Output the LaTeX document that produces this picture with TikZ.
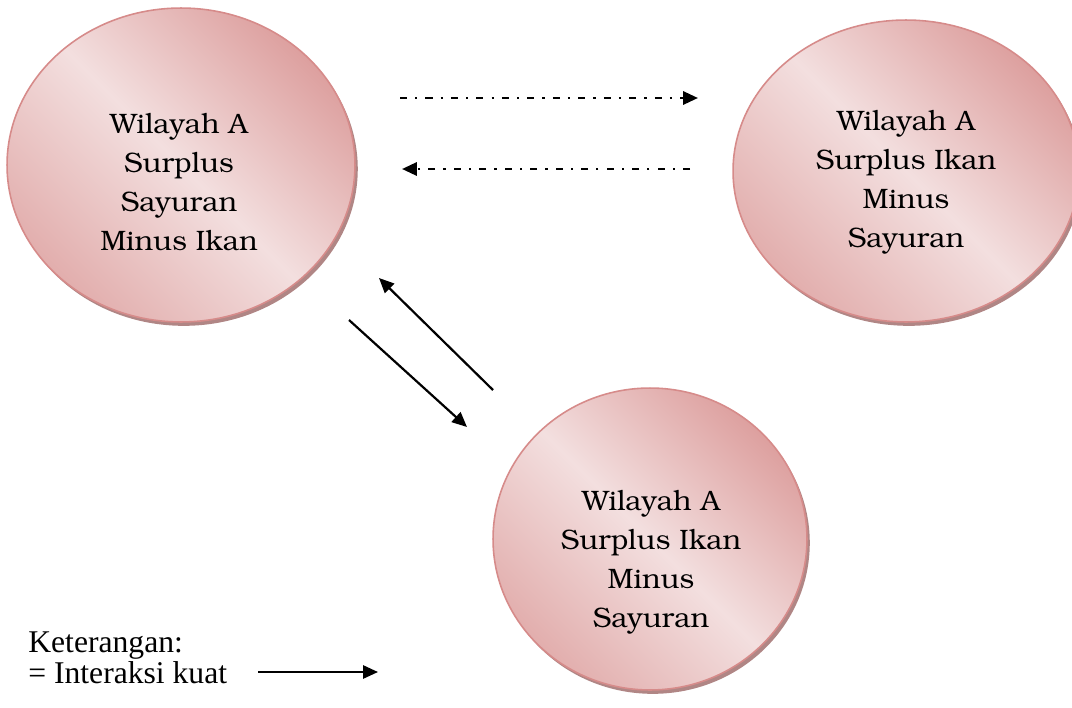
\documentclass[tikz,border=0pt]{standalone}
\usepackage[T1]{fontenc}
\usepackage{fontspec}
\setmainfont{Liberation Serif}
\newfontfamily\dejavuserif{DejaVu Serif}
\usetikzlibrary{shapes.geometric,arrows.meta,shadows}
\definecolor{rosedark}{RGB}{221,160,159}
\definecolor{rosebot}{RGB}{226,174,173}
\definecolor{roselight}{RGB}{243,223,223}
\definecolor{roseline}{RGB}{214,139,138}
\definecolor{roseshadow}{RGB}{176,134,133}
\IfFileExists{t1pbk.fd}
  {\newcommand{\bonumfont}{\fontencoding{T1}\fontfamily{pbk}\fontsize{16}{22.2}\selectfont}}
  {\newcommand{\bonumfont}{\dejavuserif\fontsize{15}{22.2}\selectfont}}

\begin{document}
\begin{tikzpicture}[x=0.02cm, y=-0.02cm]
    \tikzset{wilayah/.style = {shape=ellipse, draw=roseline, line width=0.9pt, top color=rosedark, bottom color=rosebot, middle color=roselight, shading angle=-45, drop shadow={shadow xshift=1.6pt, shadow yshift=-2.2pt, fill=roseshadow, opacity=1}}}
    \tikzset{isi/.style = {align=center, font=\bonumfont}}
    \tikzset{kuat/.style = {draw, line width=1.25pt, -{Triangle[length=8.5pt, width=7.5pt]}}}
    \tikzset{lemah/.style = {kuat, line width=1.5pt, dash pattern=on 4pt off 4.6pt on 1.3pt off 4.6pt}}

    \useasboundingbox (0,0) rectangle (1072,707);

    % wilayah
    \node[wilayah, minimum width=6.96cm, minimum height=6.28cm] (sayur) at (181,165) {};
    \node[wilayah, minimum width=6.92cm, minimum height=6.04cm] (ikan) at (906,171) {};
    \node[wilayah, minimum width=6.28cm, minimum height=6.04cm] (ikanb) at (650,539) {};

    \node[isi] (tsayur) at (179,182) {Wilayah A\\Surplus\\Sayuran\\Minus Ikan};
    \node[isi] (tikan) at (906,182) {Wilayah A\\Surplus Ikan\\Minus\\Sayuran};
    \node[isi] (tikanb) at (651,562) {Wilayah A\\Surplus Ikan\\Minus\\Sayuran};

    % keterangan
    \node[anchor=base west, font=\fontsize{18}{22}\selectfont, inner sep=0pt] (ket) at (28,652) {Keterangan:};
    \node[anchor=base west, font=\fontsize{18}{22}\selectfont, inner sep=0pt] (ik) at (28,683) {= Interaksi kuat};

    % ujung panah
    \coordinate (a1) at (400,98);  \coordinate (a2) at (698,98);
    \coordinate (b1) at (690,169); \coordinate (b2) at (402,169);
    \coordinate (c1) at (493,390); \coordinate (c2) at (379,278);
    \coordinate (d1) at (349,320); \coordinate (d2) at (467,427);
    \coordinate (k1) at (258,672); \coordinate (k2) at (378,672);

    % interaksi
    \draw[lemah] (a1) -- (a2);
    \draw[lemah] (b1) -- (b2);
    \draw[kuat] (c1) -- (c2);
    \draw[kuat] (d1) -- (d2);
    \draw[kuat] (k1) -- (k2);
\end{tikzpicture}
\end{document}
